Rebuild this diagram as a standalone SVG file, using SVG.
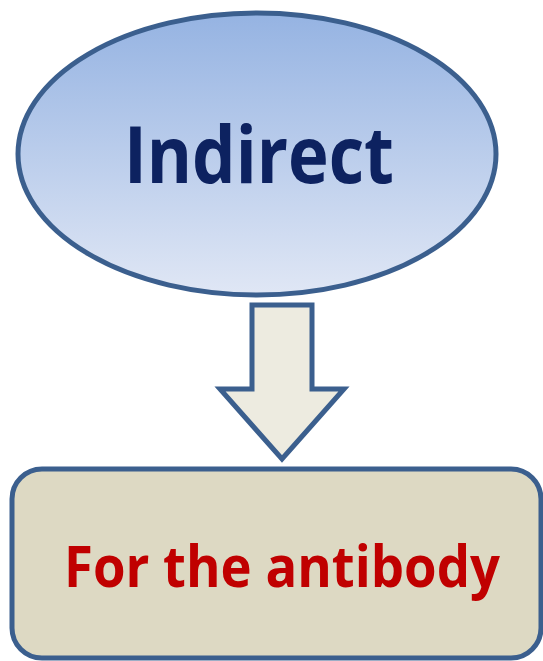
<svg xmlns="http://www.w3.org/2000/svg" width="543" height="661" viewBox="0 0 543 661">
  <defs>
    <linearGradient id="ellGrad" x1="0" y1="0" x2="0" y2="1">
      <stop offset="0" stop-color="#95B3E2"/>
      <stop offset="1" stop-color="#E0E7F5"/>
    </linearGradient>
  </defs>
  <style>
    .stroke { stroke: #3B5F8E; stroke-width: 5; }
    .label { font-family: "Open Sans", "Liberation Sans", sans-serif; font-weight: bold; text-anchor: middle; }
  </style>
  <g id="node-indirect">
    <ellipse class="stroke" cx="257" cy="154" rx="239" ry="141" fill="url(#ellGrad)"/>
    <text class="label" x="259" y="183" font-size="79" fill="#0D2260" textLength="270" lengthAdjust="spacingAndGlyphs">Indirect</text>
  </g>
  <g id="connectors">
    <polygon class="stroke" fill="#EDEBE0" stroke-linejoin="miter" points="252,305 312,305 312,389 344,389 282,459 220,389 252,389"/>
  </g>
  <g id="node-antibody">
    <rect class="stroke" x="12" y="469" width="529" height="189" rx="30" ry="30" fill="#DDD9C3"/>
    <text class="label" x="282" y="587" font-size="57" fill="#C00000" textLength="436" lengthAdjust="spacingAndGlyphs">For the antibody</text>
  </g>
</svg>
